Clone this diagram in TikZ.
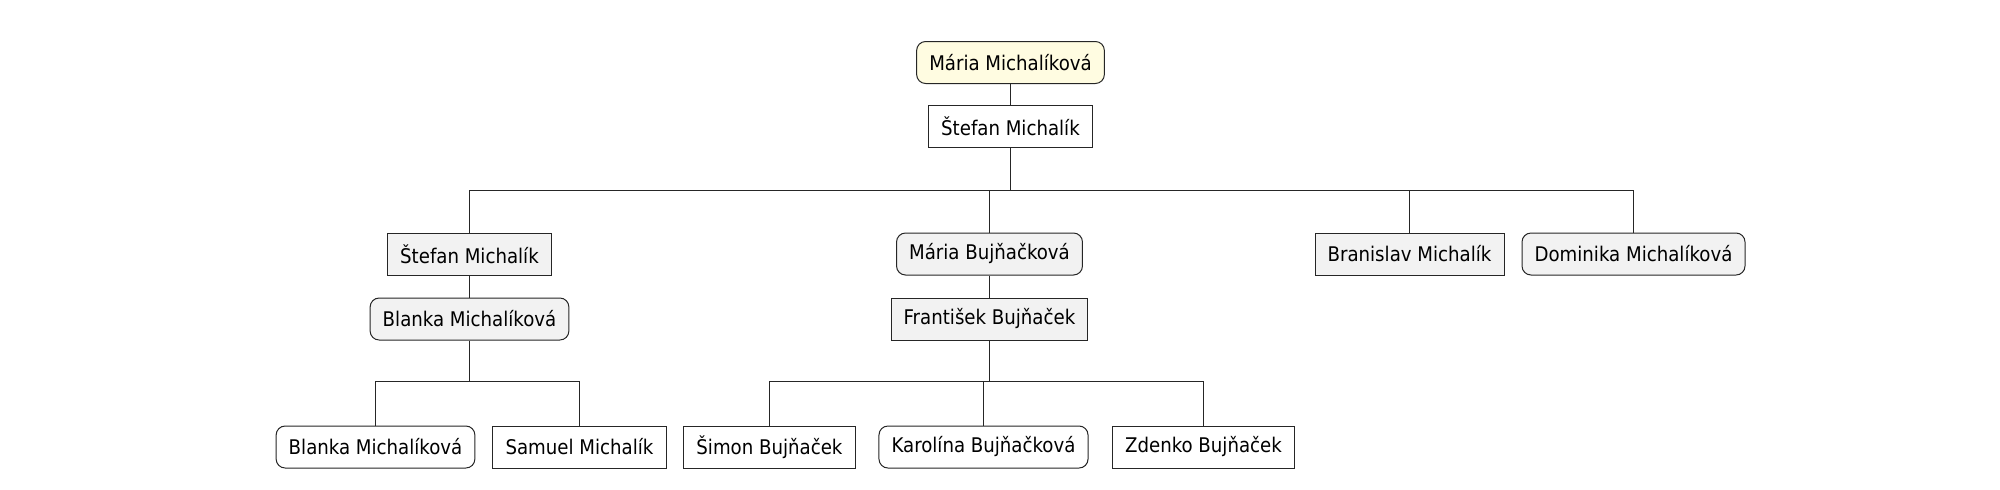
\documentclass[tikz,border=0pt]{standalone}
\usepackage{fontspec}
\setmainfont{DejaVu Sans Condensed}
\definecolor{rootfill}{HTML}{FFFCE1}
\definecolor{grayfill}{HTML}{F2F2F2}
\tikzset{
    person/.style={draw=black!85, line width=0.5pt, inner xsep=6.3pt, inner ysep=0pt,
        minimum height=21pt, font=\fontsize{10.1}{12}\selectfont, text=black},
    man/.style={person},
    woman/.style={person, rounded corners=4.5pt},
    link/.style={draw=black!85, line width=0.5pt}
}
\begin{document}
\begin{tikzpicture}[x=0.5pt, y=-0.5pt]
    \useasboundingbox (0,0) rectangle (2000,489);

    % Root couple
    \node[woman, fill=rootfill] (mm) at (1010.5, 62.5) {Mária Michalíková};
    \node[man, fill=white] (sm) at (1010.5, 126.5) {Štefan Michalík};

    % Children
    \node[man, fill=grayfill] (s2) at (469.5, 254) {Štefan Michalík};
    \node[woman, fill=grayfill] (b2) at (469.5, 319) {Blanka Michalíková};
    \node[woman, fill=grayfill] (mb) at (989.5, 254) {Mária Bujňačková};
    \node[man, fill=grayfill] (fb) at (989.5, 319) {František Bujňaček};
    \node[man, fill=grayfill] (br) at (1409.5, 254) {Branislav Michalík};
    \node[woman, fill=grayfill] (dom) at (1633.5, 254) {Dominika Michalíková};

    % Grandchildren
    \node[woman, fill=white] (b3) at (375.5, 447) {Blanka Michalíková};
    \node[man, fill=white] (sam) at (579.5, 447) {Samuel Michalík};
    \node[man, fill=white] (sim) at (769.5, 447) {Šimon Bujňaček};
    \node[woman, fill=white] (kar) at (983.5, 447) {Karolína Bujňačková};
    \node[man, fill=white] (zd) at (1203.5, 447) {Zdenko Bujňaček};

    % Bus points
    \coordinate (j1) at (1010.5, 190.5);
    \coordinate (j2) at (469.5, 381.5);
    \coordinate (j3) at (989.5, 381.5);

    % Connections
    \draw[link] (mm) -- (sm);
    \draw[link] (s2) -- (b2);
    \draw[link] (mb) -- (fb);
    \draw[link] (sm) -- (j1);
    \foreach \c in {s2, mb, br, dom} {
        \draw[link] (j1) -| (\c);
    }
    \draw[link] (b2) -- (j2);
    \foreach \c in {b3, sam} {
        \draw[link] (j2) -| (\c);
    }
    \draw[link] (fb) -- (j3);
    \foreach \c in {sim, kar, zd} {
        \draw[link] (j3) -| (\c);
    }
\end{tikzpicture}
\end{document}
